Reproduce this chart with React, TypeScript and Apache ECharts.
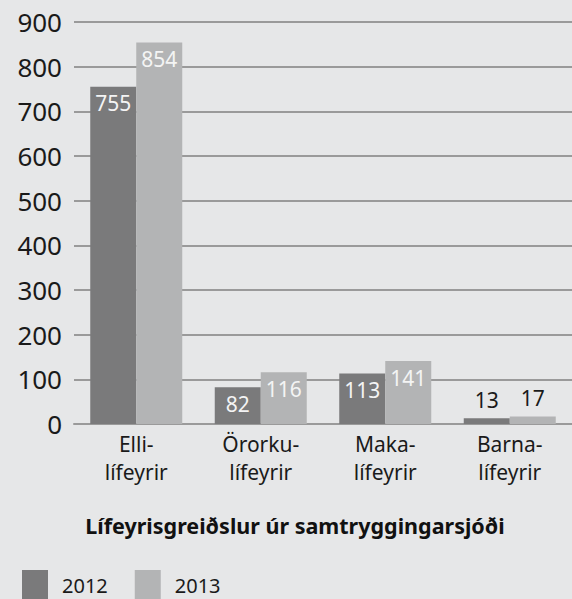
import React, { useEffect, useRef } from "react";
import * as echarts from "echarts";

const categories = ["Elli-\nlífeyrir", "Örorku-\nlífeyrir", "Maka-\nlífeyrir", "Barna-\nlífeyrir"];
const values2012 = [755, 82, 113, 13];
const values2013 = [854, 116, 141, 17];
const seriesNames = ["2012", "2013"];
const chartTitle = "Lífeyrisgreiðslur úr samtryggingarsjóði";

const FONT = "'Noto Sans', 'Open Sans', sans-serif";
const DARK = "#7a7a7b";
const LIGHT = "#b3b4b5";

function makeData(vals: number[]) {
  return vals.map((v) =>
    v < 40
      ? { value: v, label: { position: "top", color: "#1a1a1a", distance: 8 } }
      : { value: v }
  );
}

export default function App() {
  const ref = useRef<HTMLDivElement>(null);
  useEffect(() => {
    if (!ref.current) return;
    const chart = echarts.init(ref.current, null, { renderer: "svg" });
    const labelCommon = {
      show: true,
      position: "insideTop",
      distance: 6,
      color: "#f4f4f4",
      fontSize: 21,
      fontFamily: FONT,
    };
    chart.setOption({
      animation: false,
      backgroundColor: "#e6e7e8",
      textStyle: { fontFamily: FONT },
      grid: { left: 74, right: 0, top: 22, bottom: 175, containLabel: false },
      legend: {
        left: 17,
        top: 565,
        itemWidth: 26,
        itemHeight: 30,
        itemGap: 27,
        icon: "rect",
        textStyle: { fontSize: 20, color: "#1a1a1a", fontFamily: FONT, padding: [0, 0, 0, 9] },
        data: seriesNames,
      },
      graphic: [
        {
          type: "text",
          x: 295,
          y: 525,
          style: {
            text: chartTitle,
            fontSize: 21.5,
            fontWeight: "bold",
            fontFamily: FONT,
            fill: "#111",
            textAlign: "center",
            textVerticalAlign: "middle",
          },
        },
      ],
      xAxis: {
        type: "category",
        data: categories,
        axisLine: { show: true, lineStyle: { color: "#9a9a9a", width: 2 } },
        axisTick: { show: false },
        axisLabel: {
          fontSize: 21,
          color: "#1a1a1a",
          lineHeight: 28,
          margin: 6,
          fontFamily: FONT,
        },
      },
      yAxis: {
        type: "value",
        min: 0,
        max: 900,
        interval: 100,
        axisLine: { show: false },
        axisTick: { show: false },
        axisLabel: { fontSize: 26, color: "#1a1a1a", margin: 12, fontFamily: FONT },
        splitLine: { lineStyle: { color: "#9a9a9a", width: 2 } },
      },
      series: [
        {
          name: seriesNames[0],
          type: "bar",
          data: makeData(values2012),
          itemStyle: { color: DARK },
          barWidth: 46,
          barGap: "0%",
          label: labelCommon,
        },
        {
          name: seriesNames[1],
          type: "bar",
          data: makeData(values2013),
          itemStyle: { color: LIGHT },
          barWidth: 46,
          barGap: "0%",
          label: labelCommon,
        },
      ],
    });
    return () => chart.dispose();
  }, []);
  return <div ref={ref} style={{ width: 572, height: 599, position: "absolute", left: 0, top: 0 }} />;
}
